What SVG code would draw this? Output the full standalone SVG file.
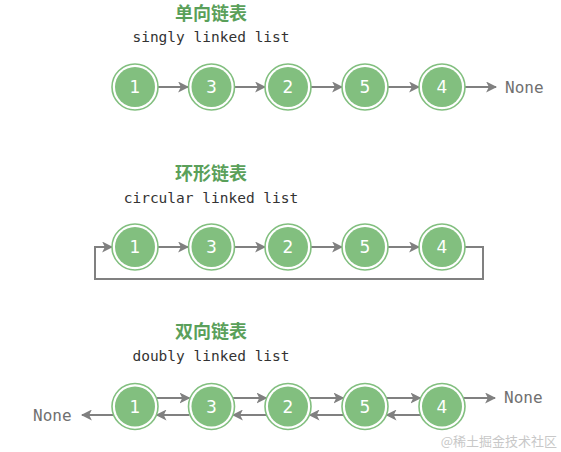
<svg xmlns="http://www.w3.org/2000/svg" width="561" height="452" viewBox="0 0 561 452">
<style>
.title{font-family:"Noto Sans CJK SC","Noto Sans",sans-serif;font-weight:bold;font-size:18px;fill:#5aa05a;text-anchor:middle}
.sub{font-family:"DejaVu Sans Mono","Liberation Mono",monospace;font-size:14.5px;fill:#333;text-anchor:middle}
.none{font-family:"DejaVu Sans Mono","Liberation Mono",monospace;font-size:16px;fill:#707070}
.ring{fill:#fff;stroke:#82bf7f;stroke-width:1.6}
.core{fill:#82bf7f}
.num{font-family:"DejaVu Sans","Noto Sans",sans-serif;font-size:17px;fill:#fff;text-anchor:middle}
.ln{stroke:#808080;stroke-width:2;fill:none}
.wm{font-family:"Noto Sans CJK SC",sans-serif;font-size:13px;fill:#c8c8c8;text-anchor:end}
</style>
<defs>
<marker id="ah" viewBox="0 0 10 10" refX="9" refY="5" markerWidth="5.5" markerHeight="5.5" orient="auto" markerUnits="strokeWidth">
<path d="M0,0 L10,5 L0,10 L2.5,5 Z" fill="#808080"/>
</marker>
<g id="nd"><circle class="ring" r="23"/><circle class="core" r="20"/></g>
</defs>

<text class="title" x="211" y="20">单向链表</text>
<text class="sub" x="211" y="42">singly linked list</text>
<text class="title" x="211" y="180">环形链表</text>
<text class="sub" x="211" y="203">circular linked list</text>
<text class="title" x="211" y="338">双向链表</text>
<text class="sub" x="211" y="361">doubly linked list</text>

<g id="connectors">
<line class="ln" x1="158" y1="87" x2="188" y2="87" marker-end="url(#ah)"/>
<line class="ln" x1="234.5" y1="87" x2="265" y2="87" marker-end="url(#ah)"/>
<line class="ln" x1="311" y1="87" x2="342" y2="87" marker-end="url(#ah)"/>
<line class="ln" x1="388" y1="87" x2="419" y2="87" marker-end="url(#ah)"/>
<line class="ln" x1="465" y1="87" x2="496" y2="87" marker-end="url(#ah)"/>

<line class="ln" x1="158" y1="247" x2="188" y2="247" marker-end="url(#ah)"/>
<line class="ln" x1="234.5" y1="247" x2="265" y2="247" marker-end="url(#ah)"/>
<line class="ln" x1="311" y1="247" x2="342" y2="247" marker-end="url(#ah)"/>
<line class="ln" x1="388" y1="247" x2="419" y2="247" marker-end="url(#ah)"/>
<path class="ln" d="M465,247 H483 V279 H95 V247 H112" marker-end="url(#ah)"/>

<line class="ln" x1="156.6" y1="398" x2="189.4" y2="398" marker-end="url(#ah)"/>
<line class="ln" x1="233" y1="398" x2="266.4" y2="398" marker-end="url(#ah)"/>
<line class="ln" x1="309.6" y1="398" x2="343.4" y2="398" marker-end="url(#ah)"/>
<line class="ln" x1="386.6" y1="398" x2="420.4" y2="398" marker-end="url(#ah)"/>
<line class="ln" x1="463.6" y1="398" x2="495" y2="398" marker-end="url(#ah)"/>
<line class="ln" x1="420.4" y1="415" x2="386.6" y2="415" marker-end="url(#ah)"/>
<line class="ln" x1="343.4" y1="415" x2="309.6" y2="415" marker-end="url(#ah)"/>
<line class="ln" x1="266.4" y1="415" x2="233" y2="415" marker-end="url(#ah)"/>
<line class="ln" x1="189.4" y1="415" x2="156.6" y2="415" marker-end="url(#ah)"/>
<line class="ln" x1="113.4" y1="415" x2="82" y2="415" marker-end="url(#ah)"/>
</g>

<g id="row1">
<g id="s1" transform="translate(135,87)"><use href="#nd"/><text class="num" y="6">1</text></g>
<g id="s3" transform="translate(211.5,87)"><use href="#nd"/><text class="num" y="6">3</text></g>
<g id="s2" transform="translate(288,87)"><use href="#nd"/><text class="num" y="6">2</text></g>
<g id="s5" transform="translate(365,87)"><use href="#nd"/><text class="num" y="6">5</text></g>
<g id="s4" transform="translate(442,87)"><use href="#nd"/><text class="num" y="6">4</text></g>
<text class="none" x="505" y="93">None</text>
</g>

<g id="row2">
<g id="c1" transform="translate(135,247)"><use href="#nd"/><text class="num" y="6">1</text></g>
<g id="c3" transform="translate(211.5,247)"><use href="#nd"/><text class="num" y="6">3</text></g>
<g id="c2" transform="translate(288,247)"><use href="#nd"/><text class="num" y="6">2</text></g>
<g id="c5" transform="translate(365,247)"><use href="#nd"/><text class="num" y="6">5</text></g>
<g id="c4" transform="translate(442,247)"><use href="#nd"/><text class="num" y="6">4</text></g>
</g>

<g id="row3">
<g id="d1" transform="translate(135,406.5)"><use href="#nd"/><text class="num" y="6">1</text></g>
<g id="d3" transform="translate(211.5,406.5)"><use href="#nd"/><text class="num" y="6">3</text></g>
<g id="d2" transform="translate(288,406.5)"><use href="#nd"/><text class="num" y="6">2</text></g>
<g id="d5" transform="translate(365,406.5)"><use href="#nd"/><text class="num" y="6">5</text></g>
<g id="d4" transform="translate(442,406.5)"><use href="#nd"/><text class="num" y="6">4</text></g>
<text class="none" x="504" y="403">None</text>
<text class="none" x="33" y="421">None</text>
</g>

<text class="wm" x="557" y="446">@稀土掘金技术社区</text>
</svg>
